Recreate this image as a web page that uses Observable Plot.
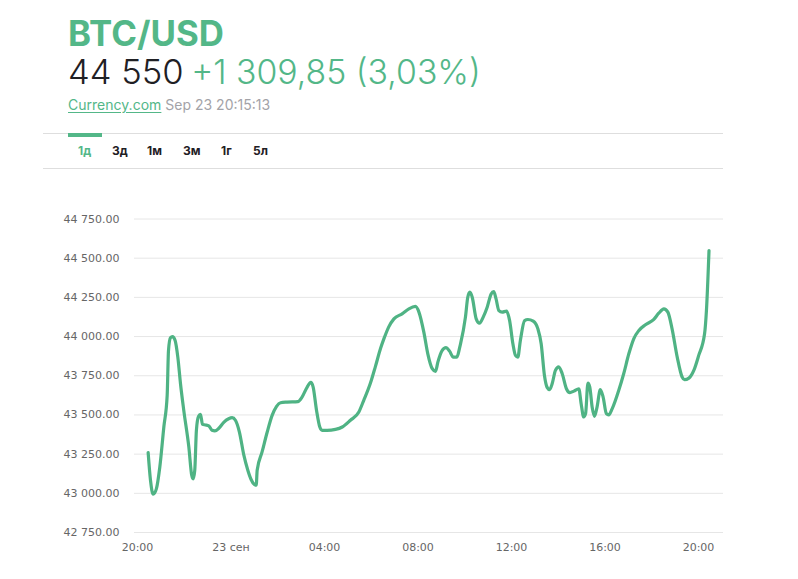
<!DOCTYPE html>
<html lang="ru">
<head>
<meta charset="utf-8">
<script src="https://cdn.jsdelivr.net/npm/d3@7"></script>
<script src="https://cdn.jsdelivr.net/npm/@observablehq/plot@0.6"></script>
<style>
html,body{margin:0;padding:0;background:#fff;overflow:hidden}
#head{position:relative;width:798px;height:170px;font-family:Inter,"Noto Sans",sans-serif}
#head>*{position:absolute;white-space:nowrap}
#title{left:68px;top:15px;height:36px;font-size:34.8px;line-height:36px;font-weight:700;color:#53b788}
#quote{left:68px;top:53px;height:36px;font-size:33.8px;line-height:36px;font-weight:300;color:#53b788}
#quote b{font-weight:300;color:#1f2024;font-size:34.6px}
#quote span{margin-left:-2px}
#src{left:68px;top:96px;font-size:14px;line-height:17px;color:#a3a3a8}
#src u{color:#53b788;text-decoration-thickness:1px;text-underline-offset:2px;letter-spacing:.02px}
.rule{left:43px;width:680px;height:1px;background:#dedede}
#active{left:68px;top:133px;width:34px;height:4px;background:#53b788}
.tab{top:143px;font-size:12px;line-height:15px;font-weight:700;color:#1f2024}
#chart{display:block}
</style>
</head>
<body>
<div id="head">
  <div id="title"></div>
  <div id="quote"></div>
  <div id="src"></div>
  <div class="rule" style="top:133px"></div>
  <div class="rule" style="top:168px"></div>
  <div id="active"></div>
</div>
<div id="chart"></div>
<script>
const pairName = "BTC/USD";
const lastPrice = "44 550";
const change = "+1 309,85 (3,03%)";
const sourceName = "Currency.com";
const stamp = "Sep 23 20:15:13";
const tabs = ["1д","3д","1м","3м","1г","5л"];
const tabLeft = [78,112,147,183,221,253];

const hours = [0.456,0.556,0.67,0.81,0.955,1.127,1.27,1.326,1.41,1.497,1.61,1.725,1.84,1.98,2.196,2.32,2.38,2.45,2.52,2.61,2.695,2.78,2.91,3.05,3.19,3.31,3.48,3.69,3.9,4.05,4.19,4.36,4.55,4.72,4.86,5.0,5.08,5.12,5.33,5.55,5.76,5.95,6.12,6.40,6.86,7.04,7.26,7.415,7.515,7.66,7.80,7.90,8.11,8.47,8.76,9.11,9.47,9.68,9.97,10.18,10.40,10.54,10.75,10.97,11.32,11.61,11.89,12.04,12.25,12.42,12.61,12.75,12.85,13.03,13.20,13.35,13.51,13.65,13.82,14.03,14.13,14.22,14.32,14.49,14.63,14.79,14.96,15.13,15.24,15.34,15.46,15.60,15.79,15.92,16.06,16.17,16.27,16.38,16.56,16.70,16.93,17.13,17.27,17.41,17.53,17.63,17.74,17.88,18.02,18.17,18.35,18.50,18.67,18.88,18.98,19.09,19.17,19.27,19.35,19.45,19.55,19.66,19.80,19.92,20.06,20.16,20.31,20.59,20.80,21.02,21.23,21.45,21.73,22.09,22.30,22.52,22.69,22.87,23.09,23.30,23.40,23.59,23.80,24.01,24.26,24.34,24.45];
const prices = [43260,43083,42994,43030,43168,43423,43625,43911,43992,44000,43975,43869,43699,43529,43296,43115,43092,43147,43402,43491,43504,43440,43436,43430,43402,43398,43415,43453,43476,43483,43466,43391,43243,43147,43088,43056,43052,43147,43264,43391,43497,43555,43578,43582,43585,43614,43678,43708,43678,43529,43423,43402,43402,43408,43423,43466,43519,43593,43705,43810,43925,43985,44062,44113,44145,44177,44192,44156,44028,43890,43795,43778,43837,43911,43930,43907,43869,43869,43954,44124,44251,44283,44251,44113,44085,44124,44187,44272,44287,44240,44166,44156,44162,44102,43954,43880,43869,43975,44102,44109,44098,44049,43954,43752,43674,43661,43699,43784,43807,43763,43667,43642,43652,43667,43572,43487,43508,43703,43678,43550,43491,43550,43661,43614,43508,43500,43540,43657,43763,43890,43986,44039,44075,44109,44149,44177,44156,44049,43869,43742,43725,43735,43784,43880,44018,44166,44548];

const yTicks = [42750,43000,43250,43500,43750,44000,44250,44500,44750];
const xTickHours = [0,4,8,12,16,20,24];
const xTickLabels = ["20:00","23 сен","04:00","08:00","12:00","16:00","20:00"];

const start = Date.UTC(2021,8,22,20);
const toDate = h => new Date(start + h*3600e3);
const rows = hours.map((h,i)=>({t:toDate(h), p:prices[i]}));

const head = document.getElementById("head");
document.getElementById("title").textContent = pairName;
document.getElementById("quote").innerHTML = "<b>"+lastPrice+"</b> <span>"+change+"</span>";
document.getElementById("src").innerHTML = "<u>"+sourceName+"</u> "+stamp;
tabs.forEach((t,i)=>{
  const d=document.createElement("div");
  d.className="tab"; d.textContent=t; d.style.left=tabLeft[i]+"px";
  if(i===0) d.style.color="#53b788";
  head.appendChild(d);
});

const yFmt = v => { const s=String(v); return s.slice(0,2)+" "+s.slice(2)+".00"; };
const labelFor = new Map(xTickHours.map((h,i)=>[+toDate(h),xTickLabels[i]]));

const plot = Plot.plot({
  width:798, height:400,
  marginLeft:134, marginRight:75, marginTop:48.5, marginBottom:38,
  style:{fontFamily:"'DejaVu Sans',sans-serif",fontSize:"11px",color:"#666",background:"#fff"},
  x:{type:"utc",domain:[toDate(-0.128),toDate(25.07)]},
  y:{domain:[42750,44750]},
  marks:[
    Plot.gridY(yTicks,{stroke:"#e6e6e6",strokeOpacity:1,strokeWidth:1}),
    Plot.axisY(yTicks,{tickSize:0,tickPadding:15,tickFormat:yFmt,label:null,fill:"#666"}),
    Plot.axisX(xTickHours.map(toDate),{tickSize:0,tickPadding:11,tickFormat:d=>labelFor.get(+d),label:null,fill:"#666"}),
    Plot.line(rows,{x:"t",y:"p",stroke:"#4fb384",strokeWidth:3.2,curve:"monotone-x"})
  ]
});
document.getElementById("chart").appendChild(plot);
</script>
</body>
</html>
